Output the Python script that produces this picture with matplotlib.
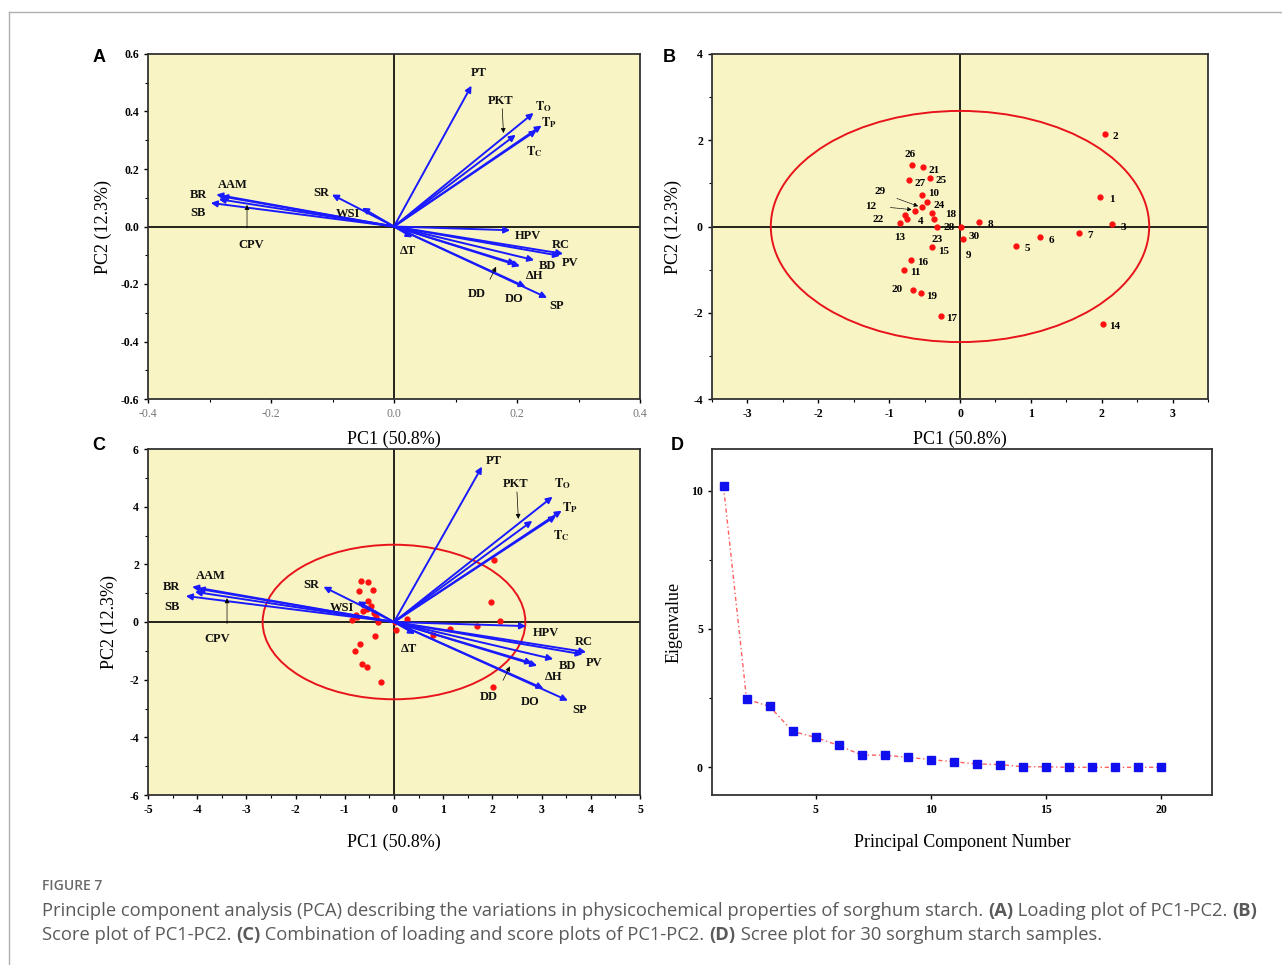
import matplotlib
matplotlib.use('Agg')
import matplotlib.pyplot as plt
from matplotlib.patches import Ellipse
from matplotlib.ticker import MultipleLocator

plt.rcParams['font.family'] = ['Liberation Serif', 'DejaVu Serif']
plt.rcParams['mathtext.fontset'] = 'stix'
plt.rcParams['axes.unicode_minus'] = False

# loadings (panel A)
variables = ['PT', 'To', 'Tp', 'Tc', 'PKT', 'BR', 'AAM', 'SB', 'CPV', 'SR',
             'WSI', 'HPV', 'RC', 'PV', 'BD', 'ΔH', 'DD', 'DO', 'SP', 'ΔT']
pc1_loading = [0.126, 0.227, 0.240, 0.232, 0.198, -0.289, -0.281, -0.298, -0.285, -0.101,
               -0.052, 0.189, 0.275, 0.270, 0.228, 0.205, 0.198, 0.214, 0.249, 0.030]
pc2_loading = [0.490, 0.395, 0.351, 0.335, 0.319, 0.111, 0.105, 0.082, 0.095, 0.111,
               0.065, -0.013, -0.095, -0.102, -0.117, -0.138, -0.130, -0.210, -0.248, -0.038]

# scores (panel B)
sample_ids = list(range(1, 31))
pc1_score = [1.98, 2.04, 2.15, -0.75, 0.79, 1.13, 1.68, 0.27, 0.04, -0.53,
             -0.79, -0.63, -0.85, 2.02, -0.39, -0.69, -0.27, -0.40, -0.55, -0.66,
             -0.52, -0.77, -0.32, -0.47, -0.43, -0.68, -0.72, -0.37, -0.54, 0.02]
pc2_score = [0.69, 2.14, 0.05, 0.17, -0.45, -0.25, -0.14, 0.10, -0.28, 0.74,
             -1.01, 0.37, 0.07, -2.26, -0.48, -0.77, -2.07, 0.31, -1.55, -1.47,
             1.37, 0.26, -0.01, 0.56, 1.12, 1.42, 1.07, 0.17, 0.45, 0.00]

# 95% confidence ellipse (width, height)
ellipse_size = (5.34, 5.36)

# loading scale used in the biplot (panel C)
biplot_scale = (14.2, 11.0)

# scree (panel D)
component_no = list(range(1, 21))
eigenvalues = [10.15, 2.46, 2.20, 1.30, 1.08, 0.79, 0.44, 0.44, 0.36, 0.28,
               0.20, 0.12, 0.10, 0.02, 0.02, 0.0, 0.0, 0.0, 0.0, 0.0]

pc1_title = 'PC1 (50.8%)'
pc2_title = 'PC2 (12.3%)'

var_text = {'To': r'$\mathbf{T_O}$', 'Tp': r'$\mathbf{T_P}$', 'Tc': r'$\mathbf{T_C}$'}
# label placement for the loading labels (panel A units)
label_pos = {
    'PT': (0.138, 0.534), 'PKT': (0.174, 0.435), 'To': (0.243, 0.418), 'Tp': (0.252, 0.362),
    'Tc': (0.228, 0.262), 'BR': (-0.318, 0.111), 'AAM': (-0.262, 0.146), 'SB': (-0.318, 0.047),
    'CPV': (-0.233, -0.063), 'SR': (-0.118, 0.117), 'WSI': (-0.074, 0.045), 'HPV': (0.218, -0.034),
    'RC': (0.271, -0.063), 'PV': (0.287, -0.128), 'BD': (0.249, -0.138), 'ΔH': (0.228, -0.172),
    'DD': (0.135, -0.236), 'DO': (0.195, -0.251), 'SP': (0.265, -0.277), 'ΔT': (0.022, -0.086),
}
# a few labels sit differently in the biplot (panel C units)
label_pos_c = {'PT': (2.03, 5.57), 'CPV': (-3.6, -0.6), 'To': (3.42, 4.8), 'Tc': (3.4, 3.0)}

BG = '#f9f4c4'
BLUE = '#1a1aff'

fig = plt.figure(figsize=(12.82, 9.65), dpi=100)
W, H = 1282, 965


def add_ax(l, t, r, b):
    return fig.add_axes([l / W, 1 - b / H, (r - l) / W, (b - t) / H])


def style_ax(ax, bg=BG):
    ax.set_facecolor(bg)
    for s in ax.spines.values():
        s.set_color('#333333')
        s.set_linewidth(1.3)
    ax.tick_params(direction='out', length=3, width=1, labelsize=8.5)
    ax.tick_params(which='minor', direction='out', length=2, width=0.8)
    for lab in ax.get_xticklabels() + ax.get_yticklabels():
        lab.set_fontweight('bold')


def draw_loadings(ax, sx, sy, fs, override=None):
    override = override or {}
    ax.axhline(0, color='k', lw=1.2, zorder=1)
    ax.axvline(0, color='k', lw=1.2, zorder=1)
    for v, x, y in zip(variables, pc1_loading, pc2_loading):
        ax.annotate('', xy=(x * sx, y * sy), xytext=(0, 0),
                    arrowprops=dict(arrowstyle='-|>', color=BLUE, lw=1.4,
                                    mutation_scale=9, shrinkA=0, shrinkB=0), zorder=3)
        lx, ly = label_pos[v]
        lx, ly = override.get(v, (lx * sx, ly * sy))
        ax.text(lx, ly, var_text.get(v, v), fontsize=fs, fontweight='bold',
                ha='center', va='center', color='#111111', zorder=4)
    # leader arrows for crowded labels
    for (x0, y0), (x1, y1) in [((0.176, 0.41), (0.178, 0.325)),
                               ((-0.239, -0.005), (-0.239, 0.075)),
                               ((0.156, -0.184), (0.166, -0.140))]:
        ax.annotate('', xy=(x1 * sx, y1 * sy), xytext=(x0 * sx, y0 * sy),
                    arrowprops=dict(arrowstyle='-|>', color='k', lw=0.5,
                                    mutation_scale=7, shrinkA=0, shrinkB=0), zorder=4)


def draw_ellipse(ax):
    ax.add_patch(Ellipse((0, 0), ellipse_size[0], ellipse_size[1], fill=False,
                         ec='#e8141c', lw=1.4, zorder=2))


# ---------- A ----------
axA = add_ax(148, 54, 640, 399)
draw_loadings(axA, 1, 1, 9)
axA.set_xlim(-0.4, 0.4)
axA.set_ylim(-0.6, 0.6)
axA.set_xticks([-0.4, -0.2, 0.0, 0.2, 0.4])
axA.set_yticks([-0.6, -0.4, -0.2, 0.0, 0.2, 0.4, 0.6])
axA.xaxis.set_minor_locator(MultipleLocator(0.1))
axA.yaxis.set_minor_locator(MultipleLocator(0.1))
style_ax(axA)
for lab in axA.get_xticklabels():
    lab.set_fontweight('normal')
    lab.set_color('#777777')
axA.set_xlabel(pc1_title, fontsize=13, labelpad=8)
axA.set_ylabel(pc2_title, fontsize=13, labelpad=6)

# ---------- B ----------
axB = add_ax(712, 54, 1208, 399)
axB.axhline(0, color='k', lw=1.2, zorder=1)
axB.axvline(0, color='k', lw=1.2, zorder=1)
draw_ellipse(axB)
axB.plot(pc1_score, pc2_score, 'o', color='#ff1010', ms=3.5, zorder=3)
score_offset = {26: (-1, 8), 20: (-12, 0), 13: (0, -10), 23: (0, -9), 9: (4, -12),
                30: (9, -7), 29: (-30, 11), 12: (-32, 3), 22: (-20, -3), 4: (10, -2),
                10: (8, 1), 24: (9, -2), 18: (14, -1), 28: (11, -6), 15: (8, -3)}
for sid, x, y in zip(sample_ids, pc1_score, pc2_score):
    dx, dy = score_offset.get(sid, (8, -2))
    axB.annotate(str(sid), (x, y), xytext=(dx, dy), textcoords='offset points',
                 fontsize=8, fontweight='bold', ha='center', va='center', zorder=4)
for sid in (29, 12):
    i = sample_ids.index(sid)
    axB.annotate('', xy=(pc1_score[i] - 0.05, pc2_score[i] + 0.02),
                 xytext=(pc1_score[i] - 0.35, pc2_score[i] + (0.2 if sid == 29 else 0.07)),
                 arrowprops=dict(arrowstyle='-|>', color='k', lw=0.5, ls=(0, (2, 1)),
                                 mutation_scale=6, shrinkA=0, shrinkB=0), zorder=4)
axB.set_xlim(-3.5, 3.5)
axB.set_ylim(-4, 4)
axB.set_xticks(range(-3, 4))
axB.set_yticks([-4, -2, 0, 2, 4])
axB.xaxis.set_minor_locator(MultipleLocator(0.5))
axB.yaxis.set_minor_locator(MultipleLocator(1))
style_ax(axB)
axB.set_xlabel(pc1_title, fontsize=13, labelpad=8)
axB.set_ylabel(pc2_title, fontsize=13, labelpad=8)

# ---------- C ----------
axC = add_ax(148, 449, 640, 795)
draw_ellipse(axC)
axC.plot(pc1_score, pc2_score, 'o', color='#ff1010', ms=3.5, zorder=2.5)
draw_loadings(axC, biplot_scale[0], biplot_scale[1], 9, label_pos_c)
axC.set_xlim(-5, 5)
axC.set_ylim(-6, 6)
axC.set_xticks(range(-5, 6))
axC.set_yticks([-6, -4, -2, 0, 2, 4, 6])
axC.xaxis.set_minor_locator(MultipleLocator(0.5))
axC.yaxis.set_minor_locator(MultipleLocator(1))
style_ax(axC)
axC.set_xlabel(pc1_title, fontsize=13, labelpad=13)
axC.set_ylabel(pc2_title, fontsize=13, labelpad=8)

# ---------- D ----------
axD = add_ax(712, 449, 1212, 795)
axD.plot(component_no, eigenvalues, color='#ff6060', lw=1, ls=(0, (3, 2, 1, 2)), zorder=2)
axD.plot(component_no, eigenvalues, 's', color='#1010ee', ms=6, zorder=3)
axD.set_xlim(0.5, 22.2)
axD.set_ylim(-1, 11.5)
axD.set_xticks([5, 10, 15, 20])
axD.set_yticks([0, 5, 10])
axD.yaxis.set_minor_locator(MultipleLocator(2.5))
style_ax(axD, bg='white')
axD.set_xlabel('Principal Component Number', fontsize=13, labelpad=13)
axD.set_ylabel('Eigenvalue', fontsize=13, labelpad=6)

# panel letters
for letter, x, y in [('A', 99, 57), ('B', 669, 57), ('C', 99, 445), ('D', 677, 445)]:
    fig.text(x / W, 1 - y / H, letter, fontsize=13, fontweight='bold',
             family='Liberation Sans', ha='center', va='center')

# frame lines
fig.add_artist(plt.Line2D([9 / W, 1], [1 - 12 / H, 1 - 12 / H], color='#b0b0b0', lw=1))
fig.add_artist(plt.Line2D([9 / W, 9 / W], [0, 1 - 12 / H], color='#b0b0b0', lw=1))

# caption
fig.text(42 / W, 1 - 886 / H, 'FIGURE 7', fontsize=10, fontweight='semibold',
         family='Open Sans', color='#6a6a6a', va='center')

renderer = fig.canvas.get_renderer()
CAP_FS = 13.2


def text_width(s, weight):
    t1 = fig.text(0, 0, s + '|', fontsize=CAP_FS, family='Open Sans', fontweight=weight)
    t2 = fig.text(0, 0, '|', fontsize=CAP_FS, family='Open Sans', fontweight=weight)
    w = t1.get_window_extent(renderer).width - t2.get_window_extent(renderer).width
    t1.remove()
    t2.remove()
    return w


caption_lines = [
    [('Principle component analysis (PCA) describing the variations in physicochemical '
      'properties of sorghum starch. ', 'normal'), ('(A)', 'bold'),
     (' Loading plot of PC1-PC2. ', 'normal'), ('(B)', 'bold')],
    [('Score plot of PC1-PC2. ', 'normal'), ('(C)', 'bold'),
     (' Combination of loading and score plots of PC1-PC2. ', 'normal'), ('(D)', 'bold'),
     (' Scree plot for 30 sorghum starch samples.', 'normal')],
]
for yy, parts in zip([911, 935], caption_lines):
    x = 42.0
    for s, w in parts:
        fig.text(x / W, 1 - yy / H, s, fontsize=CAP_FS, family='Open Sans', fontweight=w,
                 color='#5a5a5a', va='center')
        x += text_width(s, w)

fig.savefig('out.png', dpi=100)
